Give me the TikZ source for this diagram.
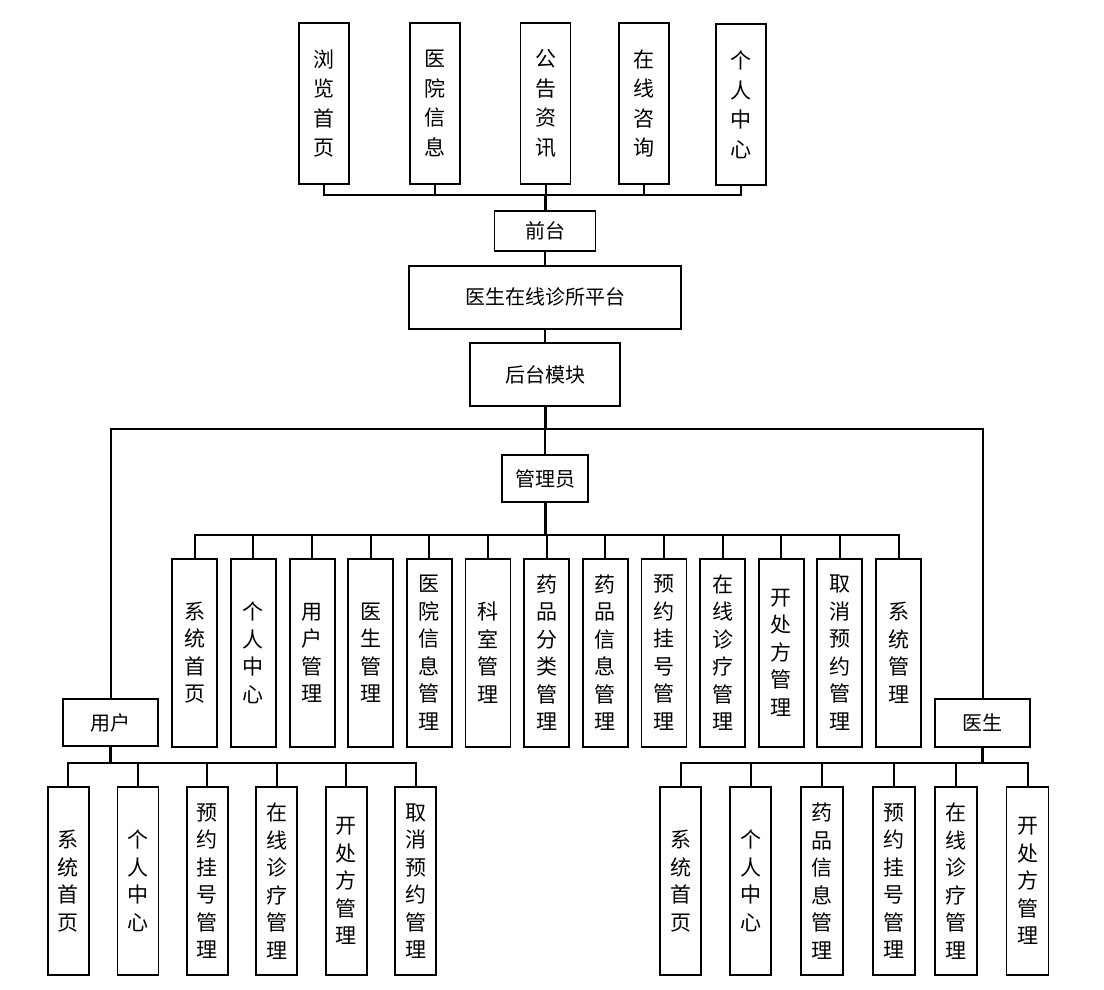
\documentclass[tikz,border=0pt]{standalone}
\usepackage{fontspec}
\setmainfont{Noto Sans CJK SC}
\usetikzlibrary{calc}

\tikzset{
    box/.style={draw, line width=1.9pt, inner sep=0pt, align=center, font=\fontsize{20}{24}\selectfont},
    vbox/.style={box, font=\fontsize{21}{27.5}\selectfont},
    tbox/.style={box, font=\fontsize{21}{29.5}\selectfont},
    link/.style={line width=2pt},
    trunk/.style={line width=3pt},
}

\begin{document}
\begin{tikzpicture}[x=1pt, y=-1pt]
    \useasboundingbox(0,0)rectangle(1104,990);

    % 前台の機能
    \node[tbox, minimum width=50pt, minimum height=161pt](f1)at(324.2,103.5){浏\\览\\首\\页};
    \node[tbox, minimum width=50pt, minimum height=161pt](f2)at(435.2,103.5){医\\院\\信\\息};
    \node[tbox, minimum width=50pt, minimum height=161pt](f3)at(545.5,103.5){公\\告\\资\\讯};
    \node[tbox, minimum width=50pt, minimum height=161pt](f4)at(644.2,103.5){在\\线\\咨\\询};
    \node[tbox, minimum width=50pt, minimum height=161pt](f5)at(740.8,104.8){个\\人\\中\\心};

    % 中央
    \node[box, minimum width=101pt, minimum height=39.5pt](qt)at(545,231){前台};
    \node[box, minimum width=272pt, minimum height=63pt](pt)at(545,297.2){医生在线诊所平台};
    \node[box, minimum width=150.7pt, minimum height=62.4pt](ht)at(545,374.5){后台模块};
    \node[box, minimum width=86.4pt, minimum height=47.3pt](gly)at(545,478.7){管理员};
    \node[box, minimum width=95.6pt, minimum height=47.6pt](yh)at(110.5,722.5){用户};
    \node[box, minimum width=95.6pt, minimum height=48pt](ys)at(982.5,722.7){医生};

    % 管理员の機能
    \node[vbox, minimum width=45pt, minimum height=187.7pt](a1)at(194.8,652.8){系\\统\\首\\页};
    \node[vbox, minimum width=45pt, minimum height=187.7pt](a2)at(253.4,652.8){个\\人\\中\\心};
    \node[vbox, minimum width=45pt, minimum height=187.7pt](a3)at(312.1,652.8){用\\户\\管\\理};
    \node[vbox, minimum width=45pt, minimum height=187.7pt](a4)at(370.7,652.8){医\\生\\管\\理};
    \node[vbox, minimum width=45pt, minimum height=187.7pt](a5)at(429.4,652.8){医\\院\\信\\息\\管\\理};
    \node[vbox, minimum width=45pt, minimum height=187.7pt](a6)at(488.0,652.8){科\\室\\管\\理};
    \node[vbox, minimum width=45pt, minimum height=187.7pt](a7)at(546.7,652.8){药\\品\\分\\类\\管\\理};
    \node[vbox, minimum width=45pt, minimum height=187.7pt](a8)at(605.3,652.8){药\\品\\信\\息\\管\\理};
    \node[vbox, minimum width=45pt, minimum height=187.7pt](a9)at(664.0,652.8){预\\约\\挂\\号\\管\\理};
    \node[vbox, minimum width=45pt, minimum height=187.7pt](a10)at(722.6,652.8){在\\线\\诊\\疗\\管\\理};
    \node[vbox, minimum width=45pt, minimum height=187.7pt](a11)at(781.3,652.8){开\\处\\方\\管\\理};
    \node[vbox, minimum width=45pt, minimum height=187.7pt](a12)at(839.9,652.8){取\\消\\预\\约\\管\\理};
    \node[vbox, minimum width=45pt, minimum height=187.7pt](a13)at(898.6,652.8){系\\统\\管\\理};

    % 用户の機能
    \node[vbox, minimum width=41pt, minimum height=188pt](u1)at(68.2,881){系\\统\\首\\页};
    \node[vbox, minimum width=41pt, minimum height=188pt](u2)at(138.0,881){个\\人\\中\\心};
    \node[vbox, minimum width=41pt, minimum height=188pt](u3)at(207.2,881){预\\约\\挂\\号\\管\\理};
    \node[vbox, minimum width=41pt, minimum height=188pt](u4)at(276.8,881){在\\线\\诊\\疗\\管\\理};
    \node[vbox, minimum width=41pt, minimum height=188pt](u5)at(346.2,881){开\\处\\方\\管\\理};
    \node[vbox, minimum width=41pt, minimum height=188pt](u6)at(415.8,881){取\\消\\预\\约\\管\\理};

    % 医生の機能
    \node[vbox, minimum width=41pt, minimum height=188pt](d1)at(680.5,881){系\\统\\首\\页};
    \node[vbox, minimum width=41pt, minimum height=188pt](d2)at(750.8,881){个\\人\\中\\心};
    \node[vbox, minimum width=42pt, minimum height=188pt](d3)at(822.2,881){药\\品\\信\\息\\管\\理};
    \node[vbox, minimum width=42pt, minimum height=188pt](d4)at(894.2,881){预\\约\\挂\\号\\管\\理};
    \node[vbox, minimum width=42pt, minimum height=188pt](d5)at(955.7,881){在\\线\\诊\\疗\\管\\理};
    \node[vbox, minimum width=42pt, minimum height=188pt](d6)at(1027.5,881){开\\处\\方\\管\\理};

    % 分岐点
    \coordinate(jq)at(545,195.3);
    \coordinate(jh)at(545,429);
    \coordinate(ja)at(545,535);
    \coordinate(ju)at(110.5,763.3);
    \coordinate(jd)at(982.5,763.3);

    % 前台の接続
    \path[draw, link](f1.south)|-(jq);
    \path[draw, link](f2.south)|-(jq);
    \path[draw, link](f3.south)|-(jq);
    \path[draw, link](f4.south)|-(jq);
    \path[draw, link](f5.south)|-(jq);
    \path[draw, trunk](jq)to(qt.north);
    \path[draw, link](qt.south)to(pt.north);
    \path[draw, link](pt.south)to(ht.north);
    \path[draw, trunk](ht.south)to(jh);
    \path[draw, link](jh)to(gly.north);
    \path[draw, link](yh.north)|-(jh);
    \path[draw, link](ys.north)|-(jh);

    % 管理员の接続
    \path[draw, trunk](gly.south)to(ja);
    \path[draw, link](a1.north)|-(ja);
    \path[draw, link](a2.north)|-(ja);
    \path[draw, link](a3.north)|-(ja);
    \path[draw, link](a4.north)|-(ja);
    \path[draw, link](a5.north)|-(ja);
    \path[draw, link](a6.north)|-(ja);
    \path[draw, link](a7.north)|-(ja);
    \path[draw, link](a8.north)|-(ja);
    \path[draw, link](a9.north)|-(ja);
    \path[draw, link](a10.north)|-(ja);
    \path[draw, link](a11.north)|-(ja);
    \path[draw, link](a12.north)|-(ja);
    \path[draw, link](a13.north)|-(ja);

    % 用户の接続
    \path[draw, trunk](yh.south)to(ju);
    \path[draw, link](u1.north)|-(ju);
    \path[draw, link](u2.north)|-(ju);
    \path[draw, link](u3.north)|-(ju);
    \path[draw, link](u4.north)|-(ju);
    \path[draw, link](u5.north)|-(ju);
    \path[draw, link](u6.north)|-(ju);

    % 医生の接続
    \path[draw, trunk](ys.south)to(jd);
    \path[draw, link](d1.north)|-(jd);
    \path[draw, link](d2.north)|-(jd);
    \path[draw, link](d3.north)|-(jd);
    \path[draw, link](d4.north)|-(jd);
    \path[draw, link](d5.north)|-(jd);
    \path[draw, link](d6.north)|-(jd);
\end{tikzpicture}
\end{document}
